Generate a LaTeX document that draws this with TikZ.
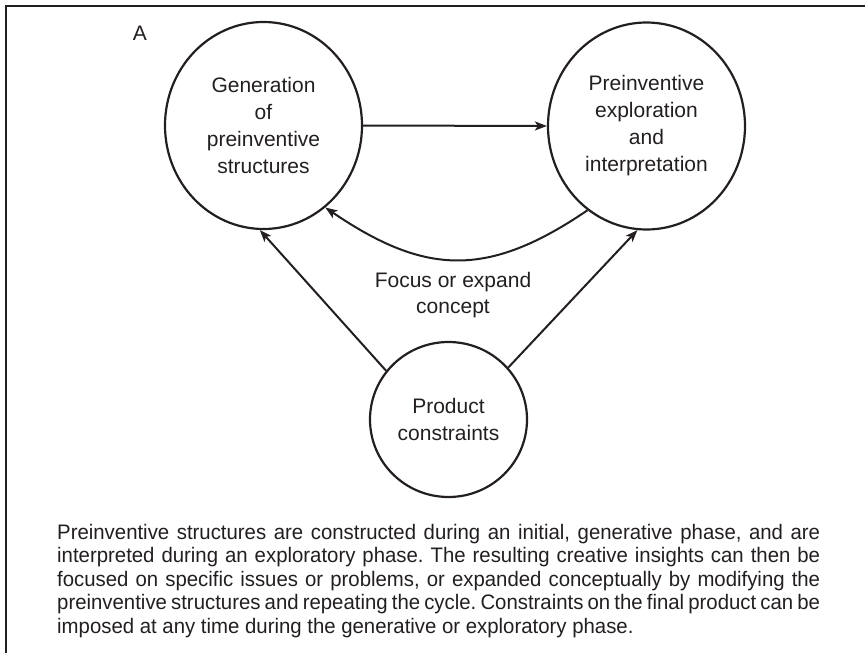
\documentclass[tikz,border=0pt]{standalone}
\usepackage{fontspec}
\setmainfont{Liberation Sans}
\newfontfamily\parafont[FakeStretch=0.97]{Liberation Sans}
\usetikzlibrary{shapes.geometric,arrows.meta}
\definecolor{ink}{HTML}{231F20}
\frenchspacing
\tikzset{
  phase/.style={ellipse, draw=ink, line width=2.2pt, inner sep=0pt, align=center,
    text=ink, font=\fontsize{21}{27}\selectfont},
  flow/.style={draw=ink, line width=2pt, -{Stealth[length=12pt,width=9pt,inset=3pt]}},
  lbl/.style={text=ink, align=center, font=\fontsize{21}{26}\selectfont, inner sep=0pt},
  paraline/.style={anchor=base west, inner sep=0pt, text=ink, font=\parafont\fontsize{21}{23.5}\selectfont},
}
\begin{document}
\begin{tikzpicture}[x=1pt,y=-1pt]
\useasboundingbox (0,0) rectangle (865,653);
\draw[ink, line width=1.5pt] (6,653) -- (6,6) -- (865,6);
\node[lbl] (A) at (140,33) {A};
\node[phase, minimum width=197pt, minimum height=207pt] (gen) at (263.5,125.5)
  {Generation\\of\\preinventive\\structures};
\node[phase, minimum width=197pt, minimum height=207pt] (expl) at (646.5,126)
  {Preinventive\\exploration\\and\\interpretation};
\node[phase, minimum width=157pt, minimum height=155pt] (prod) at (448.5,419.5)
  {Product\\constraints};
\node[lbl] (focus) at (453,295) {Focus or expand\\concept};
\draw[flow] (gen.east) -- (expl.west);
\draw[flow] (expl.235) .. controls +(-100,68) and +(100,68) .. (gen.-53);
\draw[flow] (prod.142) -- (gen.268);
\draw[flow] (prod.41) -- (expl.265);
\node[paraline] (p1) at (57,539) {\makebox[763pt][s]{Preinventive structures are constructed during an initial, generative phase, and are}};
\node[paraline] (p2) at (57,562.5) {\makebox[763pt][s]{interpreted during an exploratory phase. The resulting creative insights can then be}};
\node[paraline] (p3) at (57,586) {\makebox[763pt][s]{focused on specific issues or problems, or expanded conceptually by modifying the}};
\node[paraline] (p4) at (57,609.5) {\makebox[763pt][s]{preinventive structures and repeating the cycle. Constraints on the final product can be}};
\node[paraline] (p5) at (57,633) {imposed at any time during the generative or exploratory phase.};
\end{tikzpicture}
\end{document}
